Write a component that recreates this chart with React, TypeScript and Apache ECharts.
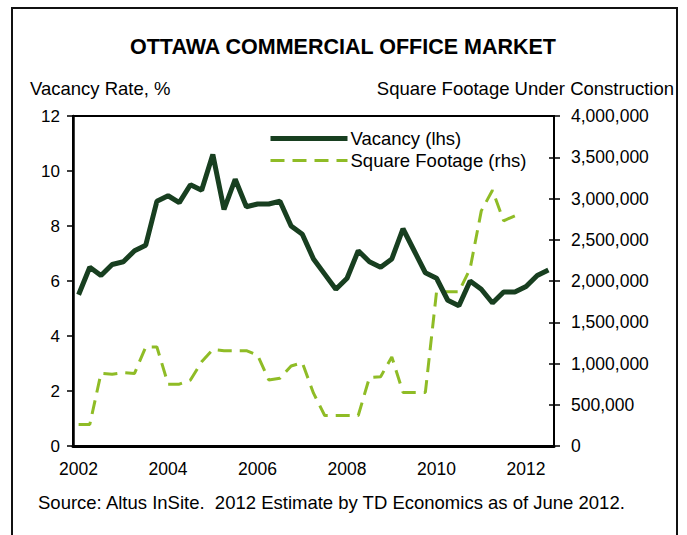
import React, { useEffect, useRef } from "react";
import * as echarts from "echarts";

const quarters: string[] = [];
for (let y = 2002; y <= 2012; y++) {
  for (let q = 1; q <= 4; q++) {
    if (y === 2012 && q === 4) break;
    quarters.push(`${y} Q${q}`);
  }
}

const vacancy = [
  5.5, 6.5, 6.2, 6.6, 6.7, 7.1, 7.3, 8.9, 9.1, 8.85, 9.5, 9.3, 10.6, 8.6, 9.7,
  8.7, 8.8, 8.8, 8.9, 8.0, 7.7, 6.8, 6.25, 5.7, 6.1, 7.1, 6.7, 6.5, 6.8, 7.9,
  7.1, 6.3, 6.1, 5.3, 5.1, 6.0, 5.7, 5.2, 5.6, 5.6, 5.8, 6.2, 6.4,
];

const squareFootage: (number | null)[] = [
  260000, 260000, 880000, 870000, 890000, 880000, 1200000, 1200000, 750000,
  750000, 800000, 1020000, 1170000, 1155000, 1155000, 1155000, 1100000, 800000,
  820000, 970000, 1010000, 640000, 370000, 370000, 370000, 370000, 830000,
  840000, 1080000, 650000, 650000, 650000, 1870000, 1870000, 1870000, 2150000,
  2850000, 3100000, 2730000, 2790000, null, null, null,
];

const leftTicks = { min: 0, max: 12, interval: 2 };
const rightTicks = { min: 0, max: 4000000, interval: 500000 };

const FONT = "'Liberation Sans', Arial, sans-serif";

export default function App() {
  const ref = useRef<HTMLDivElement>(null);
  useEffect(() => {
    if (!ref.current) return;
    const chart = echarts.init(ref.current, undefined, { renderer: "svg" });
    chart.setOption({
      animation: false,
      backgroundColor: "#fff",
      textStyle: { fontFamily: FONT },
      grid: {
        left: 73,
        right: 133,
        top: 116,
        bottom: 89,
        show: true,
        borderColor: "#000",
        borderWidth: 2,
      },
      legend: {
        orient: "vertical",
        left: 268,
        top: 129,
        padding: 0,
        itemWidth: 77,
        itemHeight: 14,
        itemGap: 3,
        itemStyle: { opacity: 0 },
        lineStyle: { width: "inherit" },
        textStyle: { fontSize: 18.5, color: "#000", fontFamily: FONT, padding: [0, 0, 0, -2] },
        data: ["Vacancy (lhs)", "Square Footage (rhs)"],
      },
      xAxis: {
        type: "category",
        data: quarters,
        boundaryGap: true,
        axisLine: { lineStyle: { color: "#000", width: 3 } },
        axisTick: { show: false },
        axisLabel: {
          interval: 7,
          formatter: (v: string) => v.slice(0, 4),
          fontSize: 17.5,
          color: "#000",
          margin: 14,
          fontFamily: FONT,
        },
        splitLine: { show: false },
      },
      yAxis: [
        {
          type: "value",
          position: "left",
          ...leftTicks,
          axisLine: { show: true, lineStyle: { color: "#000", width: 2.5 } },
          axisTick: { show: true, length: 6, lineStyle: { color: "#000", width: 1.5 } },
          axisLabel: { fontSize: 17, color: "#000", margin: 13, fontFamily: FONT },
          splitLine: { show: false },
        },
        {
          type: "value",
          position: "right",
          ...rightTicks,
          axisLine: { show: true, lineStyle: { color: "#000", width: 2 } },
          axisTick: { show: true, length: 6, lineStyle: { color: "#000", width: 1.5 } },
          axisLabel: {
            fontSize: 17.5,
            color: "#000",
            margin: 17,
            fontFamily: FONT,
            formatter: (v: number) => v.toLocaleString("en-US"),
          },
          splitLine: { show: false },
        },
        {
          type: "value",
          position: "right",
          ...rightTicks,
          axisLine: { show: false },
          axisTick: { show: true, inside: true, length: 5, lineStyle: { color: "#000", width: 1.5 } },
          axisLabel: { show: false },
          splitLine: { show: false },
        },
      ],
      series: [
        {
          name: "Square Footage (rhs)",
          type: "line",
          yAxisIndex: 1,
          data: squareFootage,
          symbol: "none",
          lineStyle: { color: "#8fbc26", width: 3, type: [14, 8] },
          itemStyle: { color: "#8fbc26" },
          z: 2,
        },
        {
          name: "Vacancy (lhs)",
          type: "line",
          yAxisIndex: 0,
          data: vacancy,
          symbol: "none",
          lineStyle: { color: "#183f20", width: 5 },
          itemStyle: { color: "#183f20" },
          z: 3,
        },
      ],
      graphic: [
        {
          type: "rect",
          shape: { x: 12, y: 8, width: 665, height: 600 },
          style: { fill: "none", stroke: "#111", lineWidth: 2 },
          silent: true,
        },
        {
          type: "text",
          x: 343,
          y: 47,
          style: {
            text: "OTTAWA COMMERCIAL OFFICE MARKET",
            fontSize: 21.5,
            fontWeight: "bold",
            fontFamily: FONT,
            fill: "#000",
            align: "center",
            verticalAlign: "middle",
          },
        },
        {
          type: "text",
          x: 30,
          y: 88,
          style: {
            text: "Vacancy Rate, %",
            fontSize: 18.5,
            fontFamily: FONT,
            fill: "#000",
            align: "left",
            verticalAlign: "middle",
          },
        },
        {
          type: "text",
          x: 674,
          y: 88,
          style: {
            text: "Square Footage Under Construction",
            fontSize: 18.5,
            fontFamily: FONT,
            fill: "#000",
            align: "right",
            verticalAlign: "middle",
          },
        },
        {
          type: "text",
          x: 38,
          y: 502,
          style: {
            text: "Source: Altus InSite.  2012 Estimate by TD Economics as of June 2012.",
            fontSize: 18.5,
            fontFamily: FONT,
            fill: "#000",
            align: "left",
            verticalAlign: "middle",
          },
        },
      ],
    });
    return () => chart.dispose();
  }, []);
  return (
    <div
      ref={ref}
      style={{ position: "absolute", left: 0, top: 0, width: 687, height: 535 }}
    />
  );
}
